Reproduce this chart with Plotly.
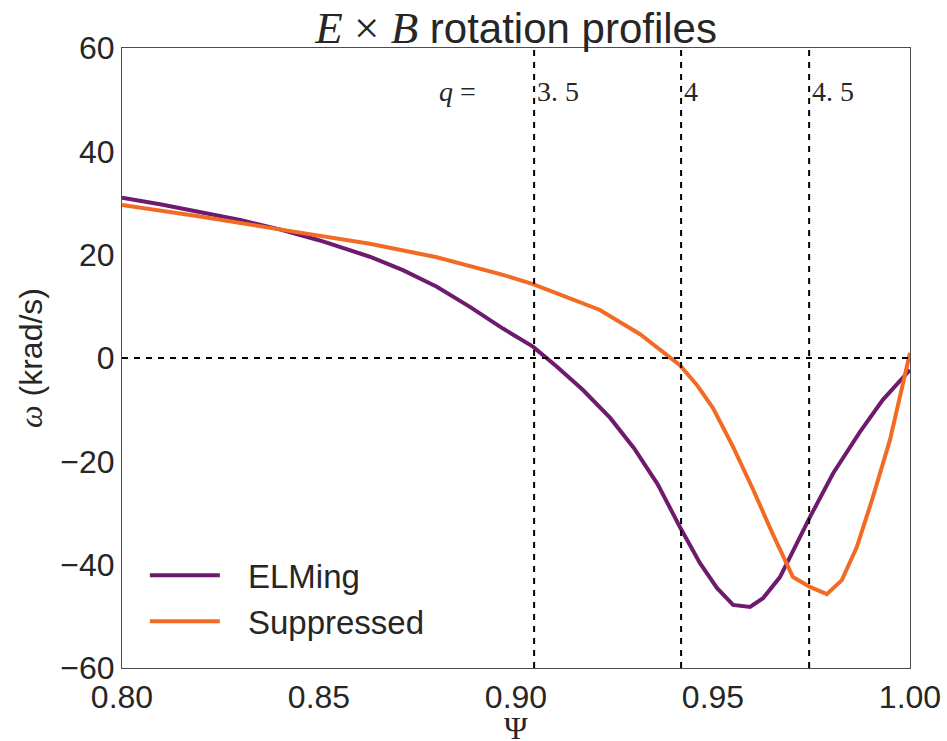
import plotly.graph_objects as go

# ---- data ----
psi_elming = [0.800, 0.810, 0.820, 0.830, 0.840, 0.850, 0.8629, 0.8713, 0.8799, 0.8883,
              0.8967, 0.9043, 0.9104, 0.9170, 0.9239, 0.930, 0.936, 0.9416, 0.9467, 0.9510,
              0.9551, 0.9594, 0.9627, 0.9670, 0.9746, 0.9805, 0.9873, 0.9931, 1.000]
omega_elming = [31.0, 29.7, 28.2, 26.7, 24.9, 22.8, 19.6, 17.0, 13.8, 9.9,
                5.7, 2.2, -1.7, -6.2, -11.6, -17.5, -24.5, -32.7, -39.7, -44.5,
                -47.8, -48.2, -46.5, -42.4, -30.8, -22.3, -14.3, -8.1, -2.3]

psi_supp = [0.800, 0.819, 0.840, 0.850, 0.8629, 0.8799, 0.8967, 0.9043, 0.9137, 0.9213,
            0.9315, 0.9383, 0.9416, 0.9459, 0.9500, 0.9551, 0.9602, 0.9653, 0.9703, 0.9746,
            0.9789, 0.9827, 0.9865, 0.9906, 0.9949, 1.000]
omega_supp = [29.6, 27.5, 24.9, 23.7, 22.1, 19.5, 16.1, 14.3, 11.6, 9.3,
              4.6, 0.6, -1.4, -5.2, -9.7, -17.2, -25.5, -34.3, -42.4, -44.3,
              -45.7, -43.0, -36.6, -26.9, -15.9, 1.0]

q_positions = [0.9046, 0.9419, 0.9744]
q_labels = ["3. 5", "4", "4. 5"]
q_label_y = 51.6
q_prefix_x = 0.880

x_ticks = [0.80, 0.85, 0.90, 0.95, 1.00]
y_ticks = [-60, -40, -20, 0, 20, 40, 60]

SANS = "Liberation Sans, Arial, sans-serif"
SERIF = "Liberation Serif, DejaVu Serif, serif"
TXT = "#262626"
GAP = "\u2002\u2009"

fig = go.Figure()
fig.add_trace(go.Scatter(x=psi_elming, y=omega_elming, mode="lines", name=GAP + "ELMing",
                         line=dict(color="#6e1b6d", width=4)))
fig.add_trace(go.Scatter(x=psi_supp, y=omega_supp, mode="lines", name=GAP + "Suppressed",
                         line=dict(color="#f26b24", width=4)))

# dashed reference lines
fig.add_hline(y=0, line=dict(color="black", width=2, dash="6px,6px"), layer="above")
for xp in q_positions:
    fig.add_vline(x=xp, line=dict(color="black", width=2, dash="6px,6px"), layer="above")

# q labels
fig.add_annotation(x=q_prefix_x, y=q_label_y, text="<i>q</i> =", showarrow=False,
                   xanchor="left", yanchor="middle",
                   font=dict(family=SERIF, size=28, color=TXT))
for xp, lab in zip(q_positions, q_labels):
    fig.add_annotation(x=xp, y=q_label_y, text=lab, showarrow=False,
                       xanchor="left", yanchor="middle", xshift=1,
                       font=dict(family=SERIF, size=28, color=TXT))

# x-axis label
fig.add_annotation(x=0.5, y=-0.097, xref="paper", yref="paper", text="Ψ", showarrow=False,
                   xanchor="center", yanchor="middle",
                   font=dict(family=SERIF, size=32, color=TXT))

MATH = "font-family:Liberation Serif;font-size:45px"
fig.update_layout(
    width=947, height=741,
    margin=dict(l=122, r=37, t=48, b=73),
    paper_bgcolor="white", plot_bgcolor="white",
    font=dict(family=SANS, size=32, color=TXT),
    title=dict(
        text=f"<span style='{MATH};font-style:italic'>E</span>"
             f"<span style='{MATH}'> × </span>"
             f"<span style='{MATH};font-style:italic'>B</span> rotation profiles",
        x=0.545, xanchor="center", y=0.962, yanchor="middle", yref="container",
        font=dict(family=SANS, size=42, color=TXT)),
    showlegend=True,
    legend=dict(x=0.029, y=0.03, xanchor="left", yanchor="bottom",
                bgcolor="rgba(0,0,0,0)", font=dict(size=33, color=TXT),
                itemwidth=70, tracegroupgap=0),
    xaxis=dict(range=[0.80, 1.00], tickvals=x_ticks, tickformat=".2f",
               showgrid=False, zeroline=False, showline=True, mirror=True,
               linecolor="#4d4d4d", linewidth=1.2, ticks="", automargin=False,
               tickfont=dict(size=32, color=TXT)),
    yaxis=dict(range=[-60, 60], tickvals=y_ticks,
               showgrid=False, zeroline=False, showline=True, mirror=True,
               linecolor="#4d4d4d", linewidth=1.2, ticks="", automargin=False,
               tickfont=dict(size=32, color=TXT),
               title=dict(text="<span style='font-family:Liberation Serif;font-style:italic'>ω</span> (krad/s)",
                          font=dict(size=32, color=TXT), standoff=8)),
)

fig.write_html("out.html", config={"displayModeBar": False},
               post_script="document.body.style.margin='0';")
